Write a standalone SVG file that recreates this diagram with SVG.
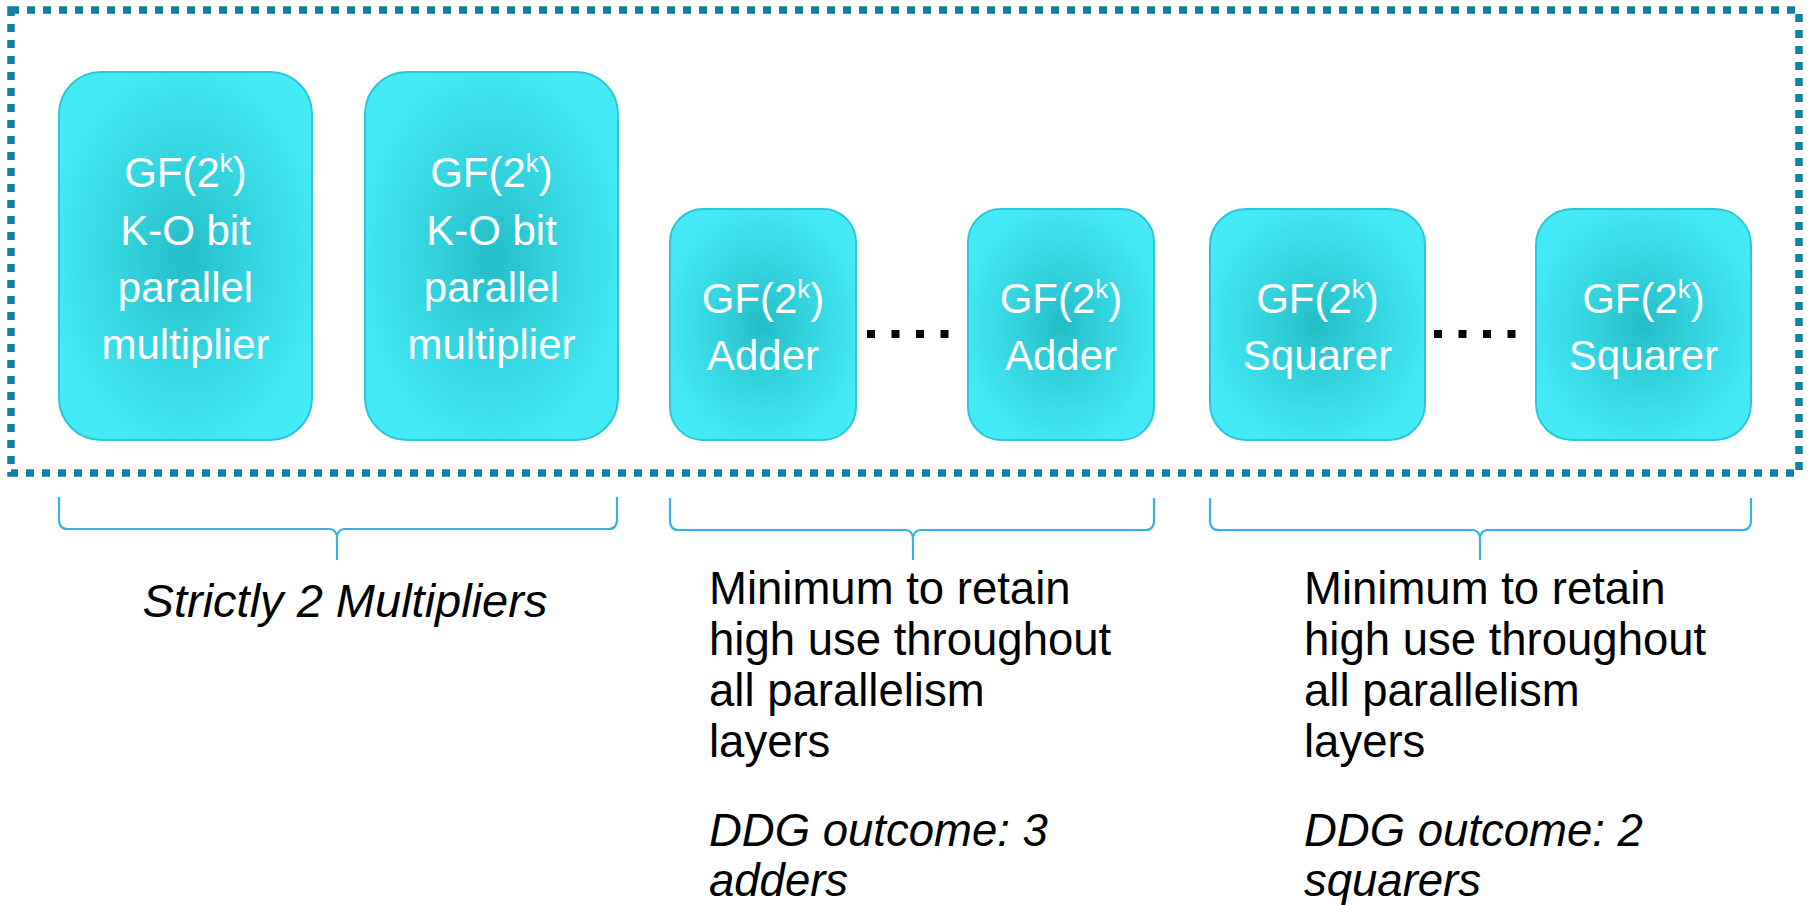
<svg xmlns="http://www.w3.org/2000/svg" width="1812" height="905" viewBox="0 0 1812 905">
<defs>
<radialGradient id="cyan" cx="50%" cy="50%" r="55%">
<stop offset="0" stop-color="#24BDC7"/>
<stop offset="0.45" stop-color="#33D3DE"/>
<stop offset="1" stop-color="#44EBF7"/>
</radialGradient>
</defs>
<style>
.box{fill:url(#cyan);stroke:#2CC7D6;stroke-width:2}
.bt{font-family:"Liberation Sans",Arial,sans-serif;font-size:42px;fill:#FFFFFF;text-anchor:middle}
.sup{font-size:26px}
.body{font-family:"Liberation Sans",Arial,sans-serif;font-size:45.5px;fill:#000000}
.it{font-style:italic}
.big{font-size:47px}
.brace{fill:none;stroke:#38B2E6;stroke-width:2.2}
.dots{fill:none;stroke:#000000;stroke-width:8;stroke-dasharray:8 16.5}
.frame{fill:none;stroke:#137FA8;stroke-width:7.5;stroke-dasharray:8 8}
</style>
<rect id="frame" class="frame" x="11" y="10" width="1788" height="463"/>
<g id="mult1">
<rect class="box" x="59" y="72" width="253" height="368" rx="42" ry="42"/>
<text class="bt" x="185.5" y="187">GF(2<tspan class="sup" dy="-15">k</tspan><tspan dy="15">)</tspan></text>
<text class="bt" x="185.5" y="245">K-O bit</text>
<text class="bt" x="185.5" y="302">parallel</text>
<text class="bt" x="185.5" y="359">multiplier</text>
</g>
<g id="mult2">
<rect class="box" x="365" y="72" width="253" height="368" rx="42" ry="42"/>
<text class="bt" x="491.5" y="187">GF(2<tspan class="sup" dy="-15">k</tspan><tspan dy="15">)</tspan></text>
<text class="bt" x="491.5" y="245">K-O bit</text>
<text class="bt" x="491.5" y="302">parallel</text>
<text class="bt" x="491.5" y="359">multiplier</text>
</g>
<g id="adder1">
<rect class="box" x="670" y="209" width="186" height="231" rx="33" ry="33"/>
<text class="bt" x="763" y="313">GF(2<tspan class="sup" dy="-15">k</tspan><tspan dy="15">)</tspan></text>
<text class="bt" x="763" y="370">Adder</text>
</g>
<g id="adder2">
<rect class="box" x="968" y="209" width="186" height="231" rx="33" ry="33"/>
<text class="bt" x="1061" y="313">GF(2<tspan class="sup" dy="-15">k</tspan><tspan dy="15">)</tspan></text>
<text class="bt" x="1061" y="370">Adder</text>
</g>
<g id="squarer1">
<rect class="box" x="1210" y="209" width="215" height="231" rx="36" ry="36"/>
<text class="bt" x="1317.5" y="313">GF(2<tspan class="sup" dy="-15">k</tspan><tspan dy="15">)</tspan></text>
<text class="bt" x="1317.5" y="370">Squarer</text>
</g>
<g id="squarer2">
<rect class="box" x="1536" y="209" width="215" height="231" rx="36" ry="36"/>
<text class="bt" x="1643.5" y="313">GF(2<tspan class="sup" dy="-15">k</tspan><tspan dy="15">)</tspan></text>
<text class="bt" x="1643.5" y="370">Squarer</text>
</g>
<g id="ellipses">
<line class="dots" x1="867" y1="334" x2="952" y2="334"/>
<line class="dots" x1="1434" y1="334" x2="1519" y2="334"/>
</g>
<g id="connectors">
<path class="brace" d="M59 497 L59 521 Q60 529 67 529 L330 529 Q337 530 337 538 L337 560 M337 538 Q337 530 344 529 L609 529 Q616 529 617 521 L617 497"/>
<path class="brace" d="M670 498 L670 522 Q671 530 678 530 L906 530 Q913 531 913 539 L913 560 M913 539 Q913 531 920 530 L1146 530 Q1153 530 1154 522 L1154 498"/>
<path class="brace" d="M1210 498 L1210 522 Q1211 530 1218 530 L1473 530 Q1480 531 1480 539 L1480 560 M1480 539 Q1480 531 1487 530 L1743 530 Q1750 530 1751 522 L1751 498"/>
</g>
<g id="label-mult">
<text class="body it big" x="345" y="617" text-anchor="middle">Strictly 2 Multipliers</text>
</g>
<g id="label-adders">
<text class="body" x="709" y="604">Minimum to retain</text>
<text class="body" x="709" y="655">high use throughout</text>
<text class="body" x="709" y="706">all parallelism</text>
<text class="body" x="709" y="757">layers</text>
<text class="body it" x="709" y="846">DDG outcome: 3</text>
<text class="body it" x="709" y="896">adders</text>
</g>
<g id="label-squarers">
<text class="body" x="1304" y="604">Minimum to retain</text>
<text class="body" x="1304" y="655">high use throughout</text>
<text class="body" x="1304" y="706">all parallelism</text>
<text class="body" x="1304" y="757">layers</text>
<text class="body it" x="1304" y="846">DDG outcome: 2</text>
<text class="body it" x="1304" y="896">squarers</text>
</g>
</svg>
